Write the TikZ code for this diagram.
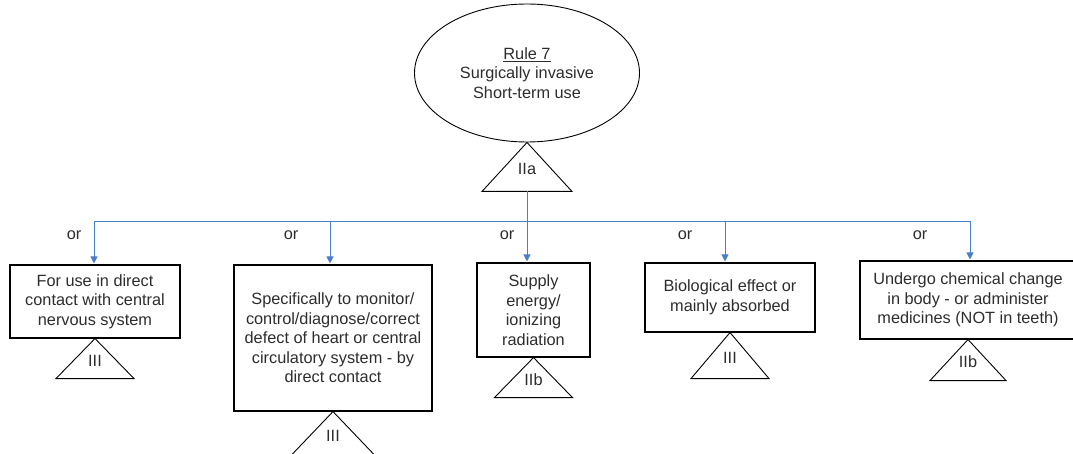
\documentclass[tikz,border=0pt]{standalone}
\usepackage{fontspec}
\setmainfont{Liberation Sans}
\usetikzlibrary{arrows.meta,shapes.geometric}
\definecolor{linkblue}{RGB}{74,126,200}
\definecolor{textgray}{RGB}{45,45,45}
\tikzset{
  box/.style={draw, line width=1.1pt, align=center, inner sep=0pt},
  tri/.style={draw, line width=0.9pt},
  link/.style={draw=linkblue, line width=1pt},
  linkarrow/.style={link, -{Triangle[length=7pt,width=7pt]}, shorten >=1pt}
}
\begin{document}
\begin{tikzpicture}[x=1pt,y=-1pt,font=\fontsize{16.3}{19.5}\selectfont,text=textgray]
\useasboundingbox (0,0) rectangle (1073,454);
\clip (0,0) rectangle (1073,454);
\node (rule) [ellipse, draw, line width=0.9pt, minimum width=225pt, minimum height=138pt, align=center, inner sep=0pt] at (527,73) {\underline{Rule 7}\\Surgically invasive\\Short-term use};
\draw[tri] (rule.south) -- ++(-45,49) -- ++(90,0) -- cycle;
\path (rule.south) ++(0,27) node (crule) {IIa};
\coordinate (base) at ([yshift=-49pt]rule.south);
\coordinate (fork) at (527,222);

\node (b1) [box, minimum width=170pt, minimum height=73pt] at (95,301.5) {For use in direct\\contact with central\\nervous system};
\node (b2) [box, minimum width=198pt, minimum height=146pt] at (333,338) {Specifically to monitor/\\control/diagnose/correct\\defect of heart or central\\circulatory system - by\\direct contact};
\node (b3) [box, minimum width=113pt, minimum height=94pt] at (533.5,310) {Supply\\energy/\\ionizing\\radiation};
\node (b4) [box, minimum width=170pt, minimum height=69pt] at (730,297.5) {Biological effect or\\mainly absorbed};
\node (b5) [box, minimum width=216pt, minimum height=78pt] at (968,300) {Undergo chemical change\\in body - or administer\\medicines (NOT in teeth)};

\foreach \b/\w/\h/\c in {b1/39/40/III, b2/42/44/III, b3/39/40/IIb, b4/39/46/III, b5/38/41/IIb}{
  \draw[tri] (\b.south) -- ++(-\w,\h) -- ++(2*\w,0) -- cycle;
  \path (\b.south) ++(0,0.55*\h) node (c\b) {\c};
}

\draw[link] (base) -- (fork);
\foreach \b/\dx in {b1/-1pt, b2/-3pt, b3/-6.5pt, b4/-5pt, b5/2pt}
  \draw[linkarrow] (fork) -| ([xshift=\dx]\b.north);

\foreach \i/\x in {1/74, 2/291, 3/507, 4/685, 5/920}
  \node (or\i) at (\x,235) {or};
\end{tikzpicture}
\end{document}
